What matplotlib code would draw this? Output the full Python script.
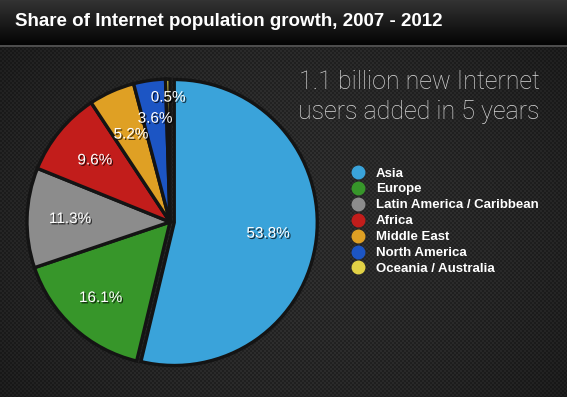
import numpy as np
import matplotlib.pyplot as plt
import matplotlib.patheffects as pe
from matplotlib.lines import Line2D

###---data---###
regions = ["Asia", "Europe", "Latin America / Caribbean", "Africa",
           "Middle East", "North America", "Oceania / Australia"]
share = [53.8, 16.1, 11.3, 9.6, 5.2, 3.6, 0.5]
colors = ["#3aa3da", "#37962a", "#8c8c8c", "#c21d1b", "#dfa024", "#1c55c4", "#e2d246"]
label_dist = [0.66, 0.72, 0.70, 0.68, 0.67, 0.73, 0.87]

title = "Share of Internet population growth, 2007 - 2012"
note = "1.1 billion new Internet\nusers added in 5 years"

W, H = 567, 397
fig = plt.figure(figsize=(W/100, H/100), dpi=100)
fig.patch.set_facecolor("#1e1e1e")

###---background: title band + carbon texture---###
yy, xx = np.mgrid[0:H, 0:W]
vign = 1 - 0.45*(((xx - W/2)/(W*0.7))**2 + ((yy - H*0.55)/(H*0.8))**2)
dots = ((xx % 4) < 2) ^ (((yy // 2) % 2) == 0)
bg = (0.14 + 0.05*dots) * vign
band = yy < 45
bg[band] = (0.20 - 0.19*(yy[band]/45.0))
bg[(yy >= 45) & (yy < 47)] = 0.30
img = np.dstack([bg, bg, bg]).clip(0, 1)
ax_bg = fig.add_axes([0, 0, 1, 1], zorder=-1)
ax_bg.imshow(img, aspect="auto", interpolation="nearest")
ax_bg.axis("off")

fig.text(15/W, 1 - 22/H, title, color="white", fontsize=13.5, fontweight="bold",
         family="Liberation Sans", va="center", ha="left")

###---pie---###
cx, cy, R, L = 170, H - 222, 143, 165
ax = fig.add_axes([(cx - L)/W, (cy - L)/H, 2*L/W, 2*L/H])
explode = [0.03] + [0]*(len(share) - 1)
wedges, _ = ax.pie(share, colors=colors, startangle=90, counterclock=False,
                   explode=explode, radius=1,
                   wedgeprops=dict(edgecolor="#141414", linewidth=2.4))
ax.set_xlim(-L/R, L/R)
ax.set_ylim(-L/R, L/R)
ax.set_aspect("equal")
ax.axis("off")

shadow = [pe.withSimplePatchShadow(offset=(1, -1), shadow_rgbFace="black", alpha=0.7)]
for w, v, d in zip(wedges, share, label_dist):
    ang = np.deg2rad((w.theta1 + w.theta2)/2)
    x0, y0 = w.center
    ax.text(x0 + d*np.cos(ang), y0 + d*np.sin(ang), f"{v}%", color="white",
            fontsize=11, family="Liberation Sans", ha="center", va="center",
            path_effects=shadow)

###---note and legend---###
fig.text(419/W, 1 - 97/H, note, color="#d9d9d9", fontsize=18, family="Roboto",
         fontweight="light", ha="center", va="center", linespacing=1.32)

handles = [Line2D([], [], marker="o", linestyle="none", markersize=9,
                  markerfacecolor=c, markeredgecolor=c) for c in colors]
leg = fig.legend(handles, regions, loc="upper left", bbox_to_anchor=(345/W, 1 - 162/H),
                 frameon=False, labelspacing=0.28, handletextpad=0.75, handlelength=1.2,
                 borderaxespad=0, prop=dict(family="Liberation Sans", weight="bold", size=9.5))
for t in leg.get_texts():
    t.set_color("white")

fig.savefig("out.png", dpi=100, facecolor=fig.get_facecolor())
